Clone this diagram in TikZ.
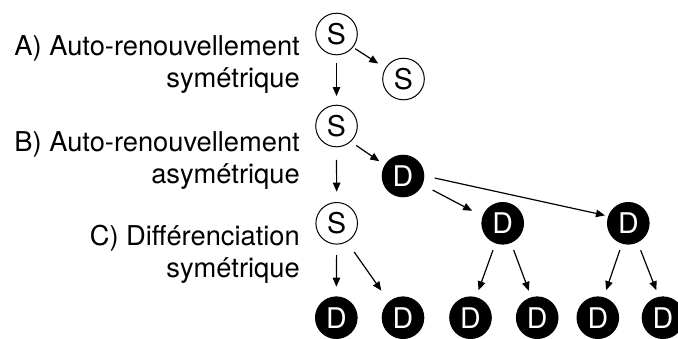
\documentclass[tikz,border=0pt]{standalone}
\usepackage{fontspec}
\setmainfont{TeX Gyre Heros}
\usetikzlibrary{arrows.meta}
\tikzset{
  cell/.style={circle, minimum size=41.6pt, inner sep=0pt, outer sep=0pt, line width=1pt, font=\fontsize{28.5}{32}\selectfont},
  stem/.style={cell, draw=black, fill=white, text=black},
  diff/.style={cell, draw=black, fill=black, text=white},
  lab/.style={anchor=base east, inner sep=0pt, font=\fontsize{27.3}{32}\selectfont},
  arr/.style={line width=1.2pt, -{Triangle[length=9pt,width=7.5pt]}}
}
\begin{document}
\begin{tikzpicture}[x=1pt,y=-1pt]
\useasboundingbox (0,0) rectangle (678,338);
% labels
\node[lab] (la1) at (300,55) {A) Auto-renouvellement};
\node[lab] (la2) at (300,87) {symétrique};
\node[lab] (lb1) at (300,151) {B) Auto-renouvellement};
\node[lab] (lb2) at (300,183) {asymétrique};
\node[lab] (lc1) at (300,245) {C) Différenciation};
\node[lab] (lc2) at (300,277) {symétrique};
% cells
\node[stem] (s1) at (336.5,34) {S};
\node[stem] (s2) at (403.5,79) {S};
\node[stem] (s3) at (336.5,126) {S};
\node[diff] (d1) at (403,176) {D};
\node[stem] (s4) at (336.7,223.3) {S};
\node[diff] (d2) at (502.7,223.3) {D};
\node[diff] (d3) at (628.3,223.3) {D};
\node[diff] (b1) at (336.3,317.7) {D};
\node[diff] (b2) at (403,317.7) {D};
\node[diff] (b3) at (470.5,317.7) {D};
\node[diff] (b4) at (537.2,317.7) {D};
\node[diff] (b5) at (597.8,317.7) {D};
\node[diff] (b6) at (663,317.7) {D};
% arrows
\draw[arr, shorten <=3pt, shorten >=8.8pt] (s1.-39) -- (s2.149.5);
\draw[arr, shorten <=8.2pt, shorten >=9.2pt] (s1.-90) -- (s3.90);
\draw[arr, shorten <=7pt, shorten >=7.1pt] (s3.-48.2) -- (d1.149.2);
\draw[arr, shorten <=13pt, shorten >=10.8pt] (s3.-90) -- (s4.90);
\draw[arr, shorten <=12pt, shorten >=12.3pt] (d1.-24.5) -- (d2.161.9);
\draw[arr, shorten <=11.2pt, shorten >=3.9pt] (d1.1.8) -- (d3.160.4);
\draw[arr, shorten <=10.9pt, shorten >=10.2pt] (s4.-90) -- (b1.90);
\draw[arr, shorten <=12.7pt, shorten >=13.9pt] (s4.-61.4) -- (b2.131.5);
\draw[arr, shorten <=7.7pt, shorten >=7.8pt] (d2.-110.5) -- (b3.75.4);
\draw[arr, shorten <=8.1pt, shorten >=7.4pt] (d2.-67.6) -- (b4.106.9);
\draw[arr, shorten <=7.2pt, shorten >=8pt] (d3.-107.9) -- (b5.74.1);
\draw[arr, shorten <=8.9pt, shorten >=7.5pt] (d3.-64) -- (b6.101.6);
\end{tikzpicture}
\end{document}
